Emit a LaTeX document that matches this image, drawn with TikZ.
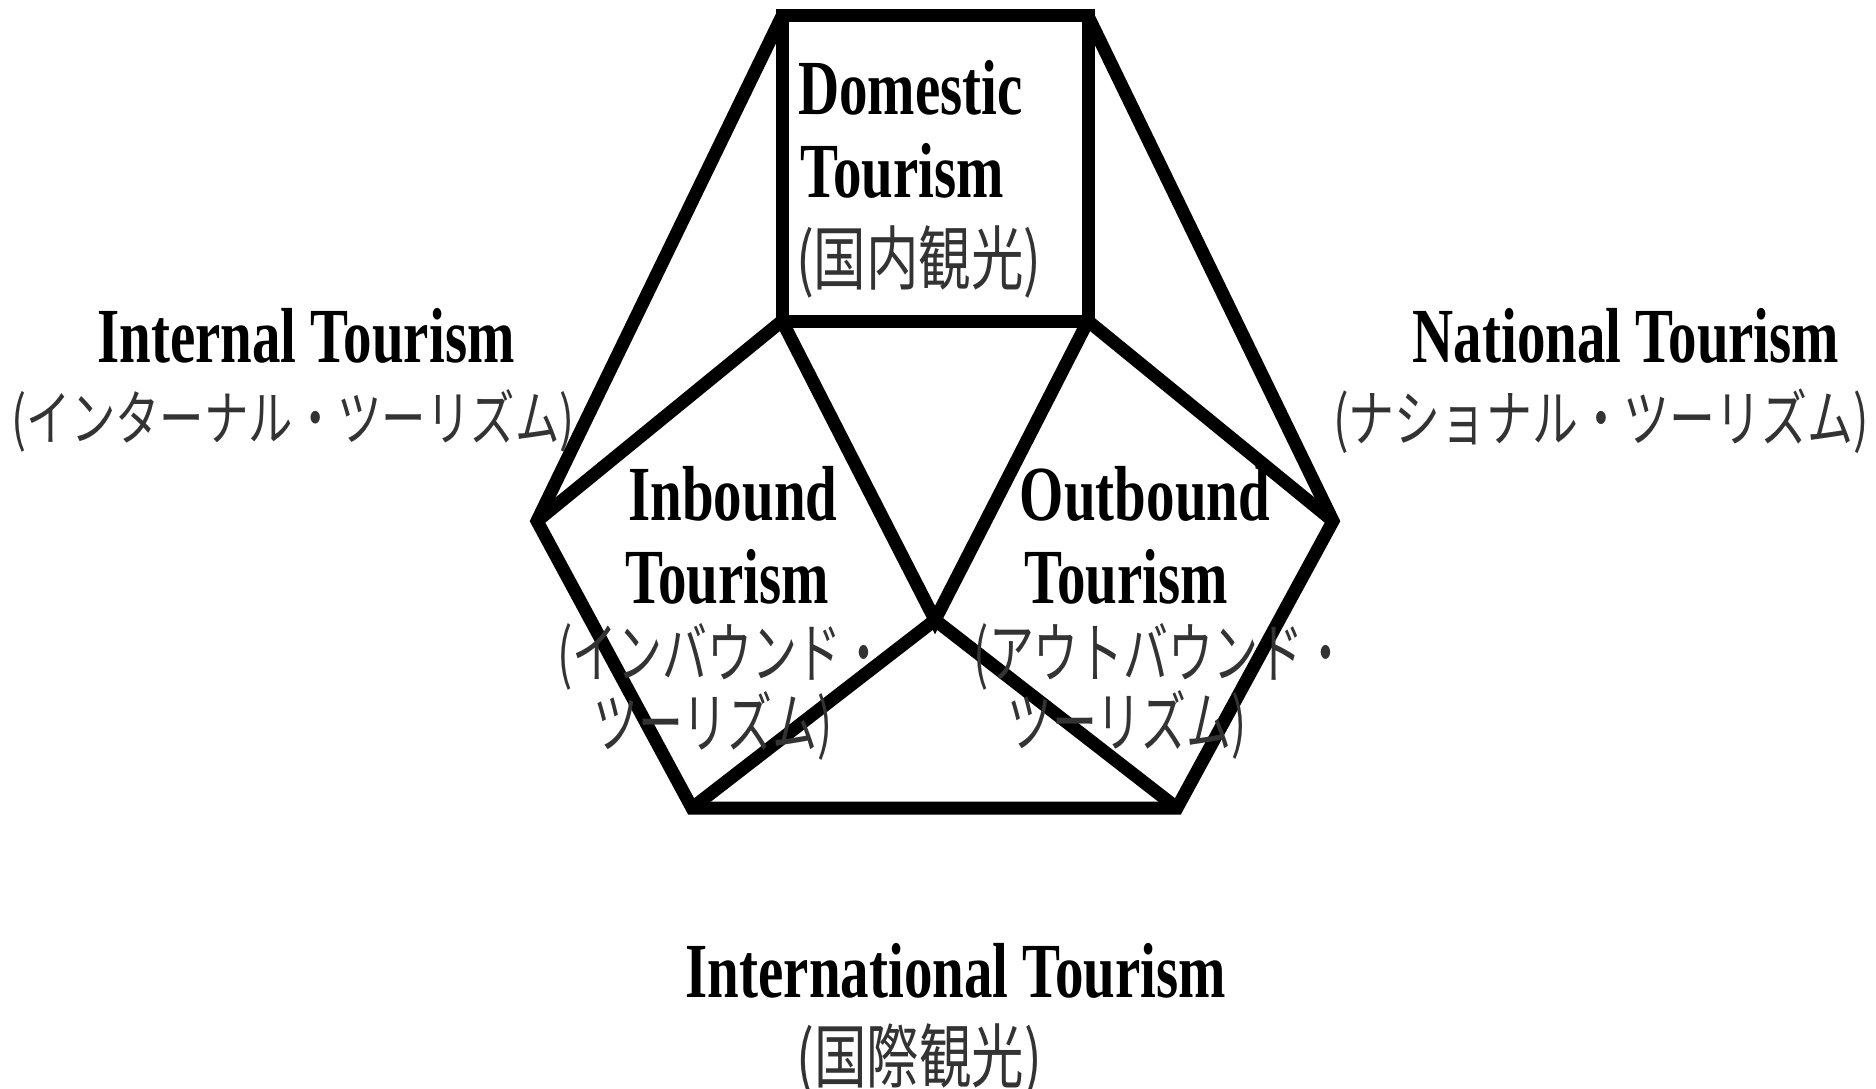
\documentclass[tikz,border=0pt]{standalone}
\usepackage{fontspec}
\setmainfont{Liberation Serif}
\newfontfamily\enf[FakeStretch=0.73]{Liberation Serif}
\newfontfamily\jpf[FakeStretch=0.68]{Noto Sans CJK JP}
\newfontfamily\jpw[FakeStretch=0.74]{Noto Sans CJK JP}
\newfontfamily\jpkf[FakeStretch=0.75]{Noto Sans CJK JP}
\begin{document}
\begin{tikzpicture}[x=1pt,y=-1pt,
  edge/.style={line width=13pt, line join=miter},
  en/.style={font=\enf\bfseries\fontsize{78}{80}\selectfont, inner sep=0pt},
  jpk/.style={font=\jpkf\fontsize{70}{72}\selectfont, inner sep=0pt, text=black!80},
  jpa/.style={font=\jpw\fontsize{62}{64}\selectfont, inner sep=0pt, text=black!80},
  jpb/.style={font=\jpf\fontsize{66}{68}\selectfont, inner sep=0pt, text=black!80}]
\useasboundingbox (0,0) rectangle (1876,1089);
% vertices
\coordinate (TL) at (782,16);
\coordinate (TR) at (1088,16);
\coordinate (SBL) at (782,321);
\coordinate (SBR) at (1088,321);
\coordinate (L) at (537,521);
\coordinate (R) at (1333,521);
\coordinate (BL) at (692,808);
\coordinate (BR) at (1177,808);
\coordinate (C) at (935,620);
% lines
\draw[edge] (TL) -- (TR) -- (SBR) -- (SBL) -- cycle;
\draw[edge] (TL) -- (L) -- (BL) -- (BR) -- (R) -- (TR);
\draw[edge] (SBL) -- (L);
\draw[edge] (SBR) -- (R);
\draw[edge] (SBL) -- (C) -- (SBR);
\draw[edge] (BL) -- (C) -- (BR);
% Domestic
\node[en, anchor=base west] (dom1) at (798,115) {Domestic};
\node[en, anchor=base west] (dom2) at (800,197) {Tourism};
\node[jpk, anchor=west] (dom3) at (796,262) {(国内観光)};
% Internal
\node[en, anchor=base] (int1) at (306,362) {Internal Tourism};
\node[jpa, font=\jpw\fontsize{60}{62}\selectfont] (int2) at (293,421) {(インターナル・ツーリズム)};
% National
\node[en, anchor=base] (nat1) at (1626,362) {National Tourism};
\node[jpa] (nat2) at (1601,421) {(ナショナル・ツーリズム)};
% Inbound
\node[en, anchor=base] (inb1) at (733,520) {Inbound};
\node[en, anchor=base] (inb2) at (727,603) {Tourism};
\node[jpb] (inb3) at (722,657) {(インバウンド・};
\node[jpb] (inb4) at (713,726) {ツーリズム)};
% Outbound
\node[en, anchor=base] (out1) at (1145,520) {Outbound};
\node[en, anchor=base] (out2) at (1126,603) {Tourism};
\node[jpb] (out3) at (1161,657) {(アウトバウンド・};
\node[jpb] (out4) at (1127,725) {ツーリズム)};
% International
\node[en, anchor=base] (itn1) at (956,997) {International Tourism};
\node[jpk] (itn2) at (919,1060) {(国際観光)};
\end{tikzpicture}
\end{document}
